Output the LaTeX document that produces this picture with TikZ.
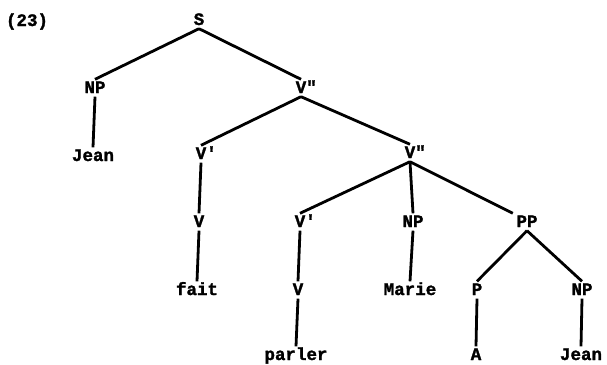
\documentclass[tikz,border=0pt]{standalone}
\usepackage{fontspec}
\usepackage{tikz}
\newfontfamily\treefont{Liberation Mono}[BoldFeatures={FakeBold=1.6}]

\begin{document}
\begin{tikzpicture}[x=1pt,y=-1pt]
        \tikzstyle{cat}=[font=\treefont\bfseries\fontsize{17.5}{20}\selectfont, text height=10pt, text depth=0pt, inner sep=3.5pt]
        \tikzstyle{br}=[draw, line width=2.8pt, line cap=butt]
        
        \newcommand{\vbar}[1]{V\rlap{#1}}
        
        \useasboundingbox (0,0) rectangle (607,364);
        
        \node (ex) at (27,21) [cat]{(23)};
        
        \node (s) at (199,20) [cat]{S};
        \node (np1) at (95,88) [cat]{NP};
        \node (jean1) at (93,156) [cat]{Jean};
        \node (vb1) at (301,88) [cat]{\vbar{"}};
        
        \node (vp1) at (201,154) [cat]{\vbar{'}};
        \node (v1) at (199,222) [cat]{V};
        \node (fait) at (197,290) [cat]{fait};
        
        \node (vb2) at (410,153) [cat]{\vbar{"}};
        \node (vp2) at (300,222) [cat]{\vbar{'}};
        \node (v2) at (298,290) [cat]{V};
        \node (parler) at (296,355) [cat]{parler};
        \node (np2) at (413,222) [cat]{NP};
        \node (marie) at (410,290) [cat]{Marie};
        \node (pp) at (527,222) [cat]{PP};
        \node (p) at (477,290) [cat]{P};
        \node (a) at (476,355) [cat]{A};
        \node (np3) at (582,290) [cat]{NP};
        \node (jean2) at (581,355) [cat]{Jean};
        
        \draw[br] (s.south)--(np1.north);
        \draw[br] (s.south)--(vb1.north);
        \draw[br] (np1.south)--(jean1.north);
        \draw[br] (vb1.south)--(vp1.north);
        \draw[br] (vb1.south)--(vb2.north);
        \draw[br] (vp1.south)--(v1.north);
        \draw[br] (v1.south)--(fait.north);
        \draw[br] (vb2.south)--(vp2.north);
        \draw[br] (vb2.south)--(np2.north);
        \draw[br] (vb2.south)--(pp.north west);
        \draw[br] (vp2.south)--(v2.north);
        \draw[br] (v2.south)--(parler.north);
        \draw[br] (np2.south)--(marie.north);
        \draw[br] (pp.south)--(p.north);
        \draw[br] (pp.south)--(np3.north);
        \draw[br] (p.south)--(a.north);
        \draw[br] (np3.south)--(jean2.north);
        
\end{tikzpicture}
\end{document}
